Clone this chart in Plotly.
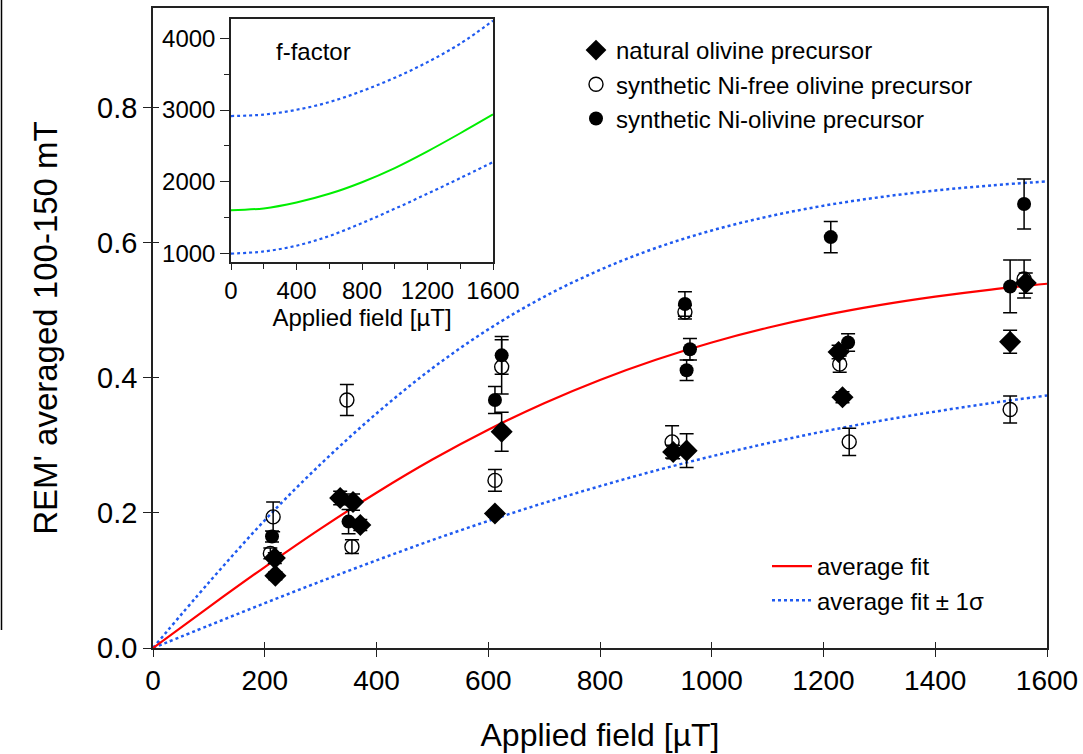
import plotly.graph_objects as go

# ---------------- data ----------------
nat_x = [219, 218, 335, 358, 371, 612, 624, 931, 955, 1227, 1234, 1534, 1562]
nat_y = [0.107, 0.133, 0.222, 0.216, 0.182, 0.199, 0.320, 0.290, 0.292, 0.438, 0.371, 0.453, 0.540]
nat_e = [0.006, 0.008, 0.010, 0.012, 0.008, 0.005, 0.029, 0.010, 0.025, 0.010, 0.008, 0.017, 0.015]

nifree_x = [215, 210, 347, 356, 624, 612, 929, 952, 1229, 1246, 1534, 1559]
nifree_y = [0.194, 0.140, 0.367, 0.150, 0.416, 0.248, 0.305, 0.497, 0.420, 0.305, 0.353, 0.546]
nifree_e = [0.022, 0.008, 0.023, 0.010, 0.040, 0.016, 0.024, 0.010, 0.012, 0.020, 0.020, 0.028]

ni_x = [213, 350, 624, 612, 952, 961, 955, 1213, 1244, 1534, 1559]
ni_y = [0.165, 0.187, 0.433, 0.367, 0.509, 0.442, 0.411, 0.608, 0.452, 0.535, 0.657]
ni_e = [0.008, 0.018, 0.028, 0.020, 0.018, 0.016, 0.015, 0.023, 0.013, 0.039, 0.037]

fit_x = [0, 100, 200, 300, 400, 500, 600, 700, 800, 900, 1000, 1100, 1200, 1300, 1400, 1500, 1600]
fit_avg = [0, 0.0606, 0.1198, 0.1766, 0.2297, 0.2788, 0.3229, 0.3622, 0.3966, 0.4265,
           0.4521, 0.4738, 0.4921, 0.5073, 0.5199, 0.5304, 0.5390]
fit_hi = [0, 0.0970, 0.1890, 0.2720, 0.3470, 0.4140, 0.4714, 0.5197, 0.5595, 0.5919,
          0.6178, 0.6383, 0.6544, 0.6670, 0.6769, 0.6845, 0.6903]
fit_lo = [0, 0.0333, 0.0663, 0.0985, 0.1297, 0.1597, 0.1880, 0.2147, 0.2395, 0.2626,
          0.2837, 0.3030, 0.3204, 0.3359, 0.3498, 0.3624, 0.3736]

f_x = [0, 200, 400, 600, 800, 1000, 1200, 1400, 1600]
f_avg = [1604, 1630, 1712, 1833, 1995, 2192, 2425, 2677, 2939]
f_hi = [2917, 2937, 3004, 3111, 3265, 3450, 3668, 3925, 4245]
f_lo = [1000, 1030, 1110, 1245, 1425, 1625, 1835, 2052, 2275]

FONT = "Liberation Sans, Arial, sans-serif"
BLUE = "#1f5af0"

fig = go.Figure()

# fit lines (main)
fig.add_trace(go.Scatter(x=fit_x, y=fit_hi, mode="lines", line=dict(color=BLUE, width=2.5, dash="dot", shape="spline"),
                         showlegend=False, hoverinfo="skip"))
fig.add_trace(go.Scatter(x=fit_x, y=fit_lo, mode="lines", line=dict(color=BLUE, width=2.5, dash="dot", shape="spline"),
                         name="average fit ± 1σ", legend="legend2", legendrank=2))
fig.add_trace(go.Scatter(x=fit_x, y=fit_avg, mode="lines", line=dict(color="#ff0000", width=2.2, shape="spline"),
                         name="average fit", legend="legend2", legendrank=1))

err = dict(type="data", color="black", thickness=1.5, width=7)
fig.add_trace(go.Scatter(x=nifree_x, y=nifree_y, mode="markers", name="synthetic Ni-free olivine precursor",
                         marker=dict(symbol="circle-open", size=14, color="black", line=dict(width=1.4, color="black")),
                         error_y=dict(array=nifree_e, **err), legendrank=2, legendgroup="b"))
fig.add_trace(go.Scatter(x=ni_x, y=ni_y, mode="markers", name="synthetic Ni-olivine precursor",
                         marker=dict(symbol="circle", size=14, color="black"),
                         error_y=dict(array=ni_e, **err), legendrank=3, legendgroup="c"))
fig.add_trace(go.Scatter(x=nat_x, y=nat_y, mode="markers", name="natural olivine precursor",
                         marker=dict(symbol="diamond", size=17, color="black"),
                         error_y=dict(array=nat_e, **err), legendrank=1, legendgroup="a"))

# inset
fig.add_trace(go.Scatter(x=f_x, y=f_hi, mode="lines", xaxis="x2", yaxis="y2",
                         line=dict(color=BLUE, width=2.2, dash="dot", shape="spline"), showlegend=False, hoverinfo="skip"))
fig.add_trace(go.Scatter(x=f_x, y=f_lo, mode="lines", xaxis="x2", yaxis="y2",
                         line=dict(color=BLUE, width=2.2, dash="dot", shape="spline"), showlegend=False, hoverinfo="skip"))
fig.add_trace(go.Scatter(x=f_x, y=f_avg, mode="lines", xaxis="x2", yaxis="y2",
                         line=dict(color="#00ee00", width=2, shape="spline"), showlegend=False, hoverinfo="skip"))

# dummy trace for inside-tick overlay axes
fig.add_trace(go.Scatter(x=[None], y=[None], xaxis="x3", yaxis="y3", showlegend=False, hoverinfo="skip"))

# body margin is removed by post_script, so page pixels == figure pixels
OFF = 0
W, H = 1083, 754
L, R, T, B = 153, 1047, 8, 648
PW, PH = R - L, B - T


def px(xp):
    return (xp - OFF - L) / PW


def py(yp):
    return (B - (yp - OFF)) / PH


axis_common = dict(showgrid=False, zeroline=False, linecolor="#222", linewidth=1.5, mirror=True,
                   tickcolor="#222", tickwidth=1.3)

fig.update_layout(
    width=W, height=H,
    margin=dict(l=L, r=W - R, t=T, b=H - B, autoexpand=False),
    paper_bgcolor="white", plot_bgcolor="white",
    font=dict(family=FONT, color="black"),
    xaxis=dict(range=[0, 1600], dtick=200, ticks="outside", ticklen=7, **axis_common,
               tickfont=dict(family=FONT, size=28, color="black"),
               title=dict(text="Applied field [µT]", font=dict(family=FONT, size=32), standoff=28)),
    yaxis=dict(range=[0, 0.947], tickvals=[0, 0.2, 0.4, 0.6, 0.8], ticktext=["0.0", "0.2", "0.4", "0.6", "0.8"],
               ticks="outside", ticklen=8, **axis_common,
               tickfont=dict(family=FONT, size=29, color="black"),
               title=dict(text="REM' averaged 100-150 mT", font=dict(family=FONT, size=33), standoff=30)),
    xaxis3=dict(range=[0, 1600], dtick=200, overlaying="x", anchor="y", side="bottom", ticks="inside", ticklen=6,
                tickcolor="#222", tickwidth=1.3, showticklabels=False, showgrid=False, zeroline=False, showline=False),
    yaxis3=dict(range=[0, 0.947], tickvals=[0, 0.2, 0.4, 0.6, 0.8], overlaying="y", anchor="x", side="left",
                ticks="inside", ticklen=6, tickcolor="#222", tickwidth=1.3, showticklabels=False, showgrid=False,
                zeroline=False, showline=False),
    xaxis2=dict(domain=[px(231), px(493)], anchor="y2", range=[0, 1600], tickvals=[0, 400, 800, 1200, 1600],
                ticks="outside", ticklen=6, showgrid=False, zeroline=False, linecolor="#222", linewidth=1.5, mirror=True,
                tickcolor="#222", tickwidth=1.2, tickfont=dict(family=FONT, size=24, color="black"),
                minor=dict(dtick=200, ticks="outside", ticklen=5, tickcolor="#222"),
                title=dict(text="Applied field [µT]", font=dict(family=FONT, size=24), standoff=2)),
    yaxis2=dict(domain=[py(262), py(19)], anchor="x2", range=[883, 4269], tickvals=[1000, 2000, 3000, 4000],
                ticks="outside", ticklen=9, showgrid=False, zeroline=False, linecolor="#222", linewidth=1.5, mirror=True,
                tickcolor="#222", tickwidth=1.2, tickfont=dict(family=FONT, size=24, color="black"),
                minor=dict(dtick=500, ticks="outside", ticklen=5, tickcolor="#222")),
    legend=dict(x=px(576), y=py(28), xanchor="left", yanchor="top", bgcolor="rgba(0,0,0,0)",
                font=dict(family=FONT, size=24, color="black"), traceorder="normal", tracegroupgap=0),
    legend2=dict(x=px(767), y=py(544), xanchor="left", yanchor="top", bgcolor="rgba(0,0,0,0)",
                 font=dict(family=FONT, size=24, color="black"), itemwidth=40),
    annotations=[dict(text="f-factor", xref="paper", yref="paper", x=px(313), y=py(52), showarrow=False,
                      font=dict(family=FONT, size=24, color="black"), xanchor="center", yanchor="middle")],
    shapes=[dict(type="line", xref="paper", yref="paper", x0=px(1.5), x1=px(1.5), y0=py(630), y1=py(0),
                 line=dict(color="black", width=1.5))],
)

fig.write_html("out.html", config={"displayModeBar": False},
               post_script="document.body.style.margin='0px'; document.body.style.overflow='hidden';")
